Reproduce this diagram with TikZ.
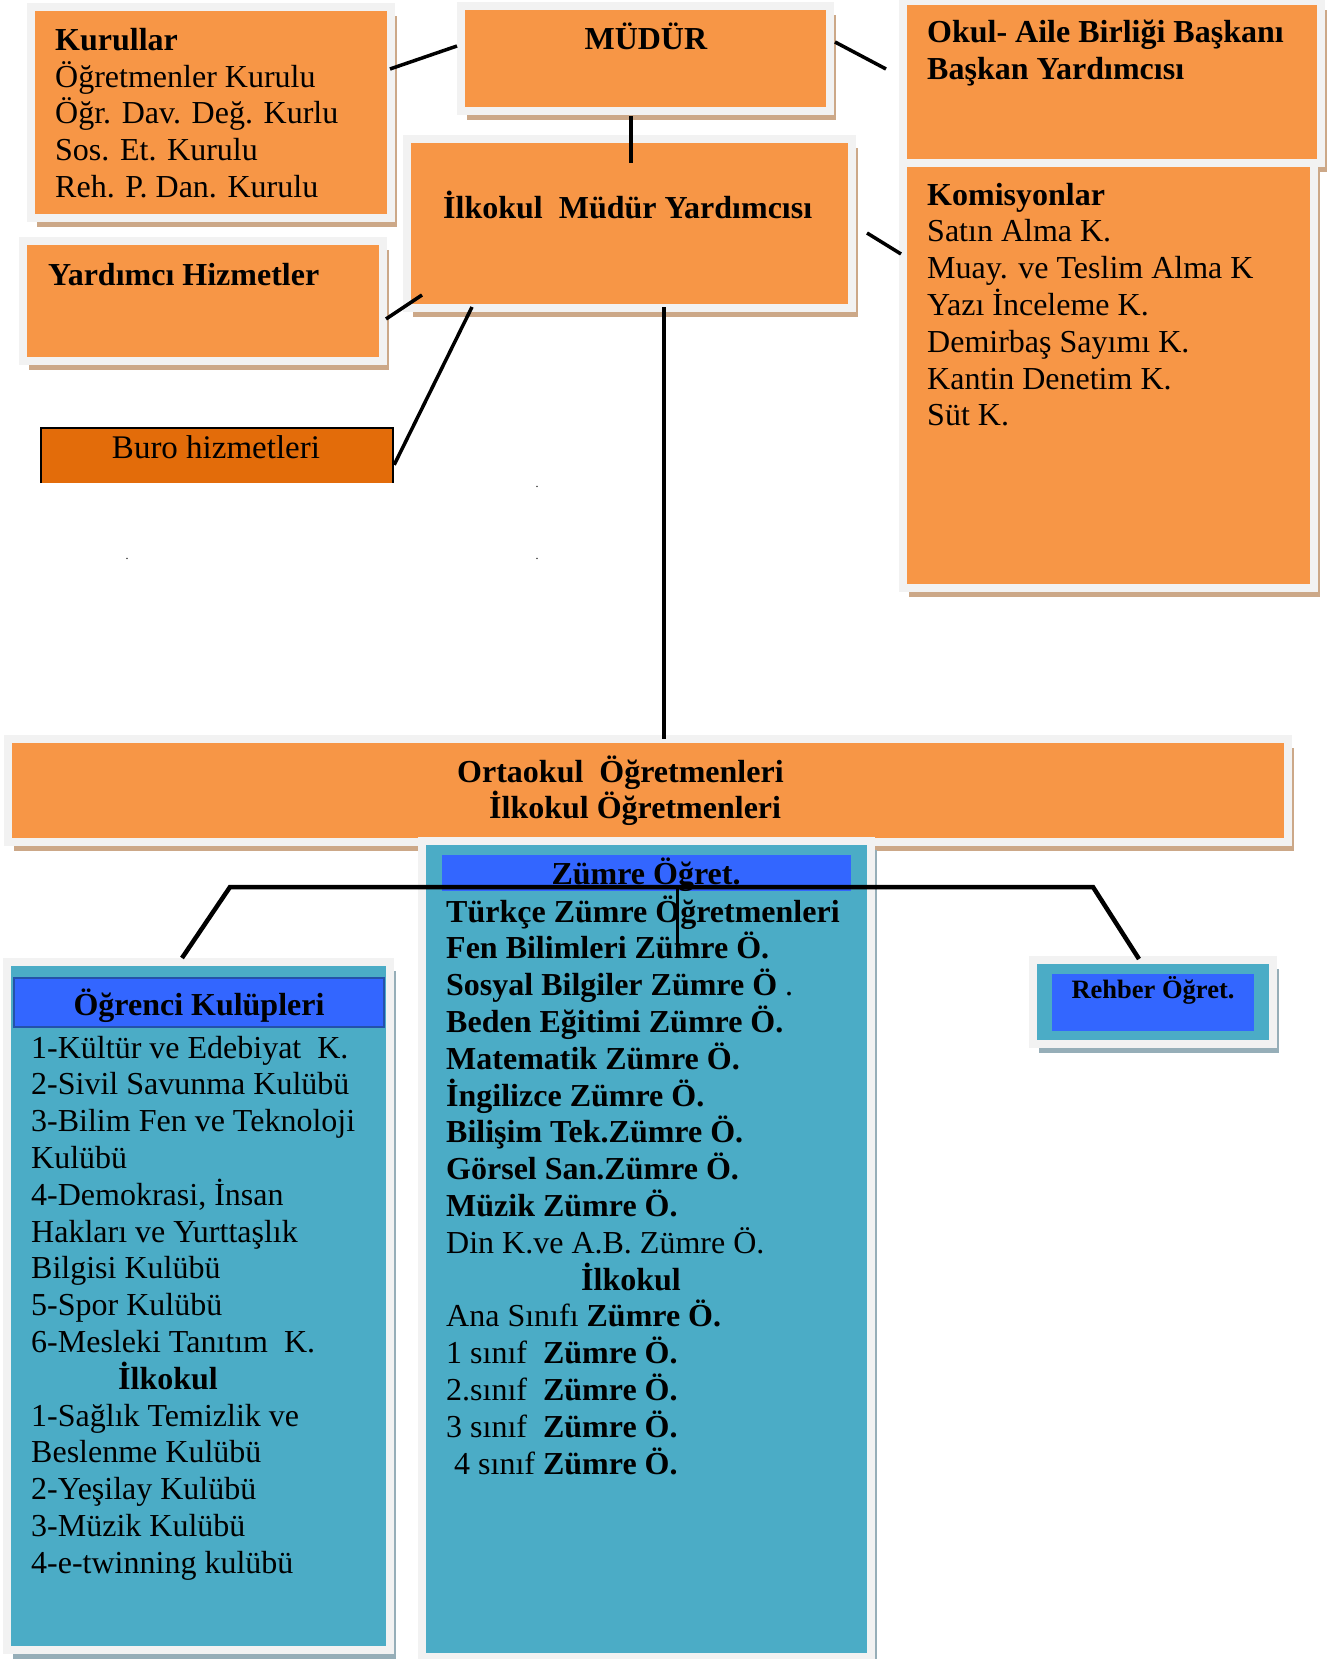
\documentclass[tikz,border=0pt]{standalone}
\usepackage{fontspec}
\setmainfont{Liberation Serif}
\usetikzlibrary{shadows,calc}
\definecolor{orng}{RGB}{247,150,70}
\definecolor{frameg}{RGB}{242,242,242}
\definecolor{shtan}{RGB}{204,168,136}
\definecolor{tealc}{RGB}{75,172,198}
\definecolor{shteal}{RGB}{150,174,184}
\definecolor{blu}{RGB}{51,102,255}
\definecolor{hdrline}{RGB}{36,82,170}
\definecolor{buroc}{RGB}{227,108,10}
\begin{document}
\begin{tikzpicture}[x=1pt,y=-1pt,
  box/.style={rectangle, draw=frameg, line width=8pt, inner sep=0pt},
  obox/.style={box, fill=orng, drop shadow={opacity=1, fill=shtan, shadow xshift=6pt, shadow yshift=-9pt}},
  tbox/.style={box, fill=tealc, drop shadow={opacity=1, fill=shteal, shadow xshift=6pt, shadow yshift=-9pt}},
  hdr/.style={rectangle, fill=blu, inner sep=0pt},
  txt/.style={inner sep=0pt, anchor=base west, font=\fontsize{32}{36.8}\selectfont},
  ctxt/.style={txt, anchor=base},
  link/.style={draw=black, line width=3.5pt},
  barline/.style={draw=black, line width=4.5pt, line join=miter}
]
\fill[white] (0,0) rectangle (1328,1659);
\useasboundingbox (0,0) rectangle (1328,1659);

% ---------- top boxes ----------
\node[obox, minimum width=360pt, minimum height=211pt] (kur) at (211,112.5) {};
\node[obox, minimum width=369pt, minimum height=105pt] (mud) at (645.5,58.5) {};
\node[obox, minimum width=418pt, minimum height=162pt] (okul) at (1112,82) {};
\node[obox, minimum width=411pt, minimum height=425pt] (kom) at (1108.5,375.5) {};
\node[obox, minimum width=445pt, minimum height=169pt] (ilk) at (629.5,223.5) {};
\node[obox, minimum width=360pt, minimum height=120pt] (yar) at (203,301) {};
\node[rectangle, fill=buroc, inner sep=0pt, minimum width=352pt, minimum height=55pt] (buro) at (217,455.5) {};
\draw[line width=2.5pt] (buro.south west) -- (buro.north west) -- (buro.north east) -- (buro.south east);

% ---------- lower boxes ----------
\node[obox, minimum width=1280pt, minimum height=103pt] (ort) at (648,790.5) {};
\node[tbox, minimum width=449pt, minimum height=816pt] (zum) at (646.5,1249) {};
\node[hdr, minimum width=409pt, minimum height=36pt] (zumh) at (646.5,873) {};
\node[tbox, minimum width=383pt, minimum height=688pt] (ogr) at (198.5,1306) {};
\node[hdr, draw=hdrline, line width=2.5pt, minimum width=370pt, minimum height=49pt] (ogrh) at (199,1002.5) {};
\node[tbox, minimum width=240pt, minimum height=84pt] (reh) at (1153,1002) {};
\node[hdr, minimum width=202pt, minimum height=57pt] (rehh) at (1153,1002.5) {};

% ---------- connectors ----------
\draw[link] ($(kur.north east)+(-5,66)$) -- ($(mud.north west)+(0,44)$);
\draw[link] ($(mud.north east)+(1,40)$) -- ($(okul.north west)+(-13,72)$);
\draw[link] ($(mud.south)+(-14.5,1)$) -- ($(ilk.north)+(1.5,28)$);
\draw[link] ($(yar.north east)+(-1,82)$) -- ($(ilk.north west)+(19,160)$);
\draw[link] ($(ilk.south west)+(69,-5)$) -- ($(buro.north east)+(1,37)$);
\draw[link] ($(ilk.north east)+(11,98)$) -- ($(kom.north west)+(2,95)$);
\draw[link] ($(ilk.south)+(34.5,-5)$) -- ($(ort.north)+(16,4)$);
\coordinate (barL) at (230,887);
\coordinate (barR) at (1093,887);
\coordinate (stubT) at (677,887);
\draw[barline] ($(ogr.north)+(-16.5,0)$) -- (barL) -- (barR) -- ($(reh.north)+(-14,3)$);
\draw[draw=black, line width=3pt] (stubT) -- ($(zumh.south)+(30.5,55)$);

% ---------- texts ----------
\node[txt] (kurT) at (55,51) {\textbf{Kurullar}};
\foreach \t [count=\i] in {Öğretmenler Kurulu, Öğr. Dav. Değ. Kurlu, Sos. Et. Kurulu, Reh. P. Dan. Kurulu}
  \node[txt] (kur\i) at (55,{51+36.5*\i}) {\t};
\node[ctxt] (mudT) at (646,50) {\textbf{MÜDÜR}};
\node[txt] (okul1) at (927,43) {\textbf{Okul- Aile Birliği Başkanı}};
\node[txt] (okul2) at (927,80) {\textbf{Başkan Yardımcısı}};
\node[txt] (ilkT) at (443,218) {\textbf{İlkokul\ \ Müdür Yardımcısı}};
\node[txt] (yarT) at (48,285) {\textbf{Yardımcı Hizmetler}};
\node[txt] (komT) at (927,205) {\textbf{Komisyonlar}};
\foreach \t [count=\i] in {Satın Alma K., Muay. ve Teslim Alma K, Yazı İnceleme K., Demirbaş Sayımı K., Kantin Denetim K., Süt K.}
  \node[txt] (kom\i) at (927,{205+36.8*\i}) {\t};
\node[ctxt, font=\fontsize{33}{38}\selectfont] (buroT) at (216,458) {Buro hizmetleri};
\node[ctxt, font=\fontsize{12}{14}\selectfont] (dot1) at (537,487) {.};
\node[ctxt, font=\fontsize{12}{14}\selectfont] (dot2) at (127,559) {.};
\node[ctxt, font=\fontsize{12}{14}\selectfont] (dot3) at (537,559) {.};

\node[txt] (ort1) at (457,782) {\textbf{Ortaokul\ \ Öğretmenleri}};
\node[txt] (ort2) at (489,818) {\textbf{İlkokul Öğretmenleri}};

\node[ctxt] (zumT) at (646,884) {\textbf{Zümre Öğret.}};
\foreach \t [count=\i from 0] in {\textbf{Türkçe Zümre Öğretmenleri}, \textbf{Fen Bilimleri Zümre Ö.}, {\textbf{Sosyal Bilgiler Zümre Ö} .}, \textbf{Beden Eğitimi Zümre Ö.}, \textbf{Matematik Zümre Ö.}, \textbf{İngilizce Zümre Ö.}, \textbf{Bilişim Tek.Zümre Ö.}, \textbf{Görsel San.Zümre Ö.}, \textbf{Müzik Zümre Ö.}, Din K.ve A.B. Zümre Ö.}
  \node[txt] (zl\i) at (446,{922+36.8*\i}) {\t};
\node[ctxt] (zl10) at (631,1290) {\textbf{İlkokul}};
\foreach \t [count=\i from 11] in {Ana Sınıfı \textbf{Zümre Ö.}, 1 sınıf\ \ \textbf{Zümre Ö.}, 2.sınıf\ \ \textbf{Zümre Ö.}, 3 sınıf\ \ \textbf{Zümre Ö.}, \ 4 sınıf \textbf{Zümre Ö.}}
  \node[txt] (zl\i) at (446,{922+36.8*\i}) {\t};

\node[ctxt] (ogrT) at (199,1015) {\textbf{Öğrenci Kulüpleri}};
\foreach \t [count=\i from 0] in {1-Kültür ve Edebiyat\ \ K., 2-Sivil Savunma Kulübü, 3-Bilim Fen ve Teknoloji, Kulübü, {4-Demokrasi, İnsan}, Hakları ve Yurttaşlık, Bilgisi Kulübü, 5-Spor Kulübü, 6-Mesleki Tanıtım\ \ K.}
  \node[txt] (kl\i) at (31,{1058+36.8*\i}) {\t};
\node[ctxt] (kl9) at (168,1389) {\textbf{İlkokul}};
\foreach \t [count=\i from 10] in {1-Sağlık Temizlik ve, Beslenme Kulübü, 2-Yeşilay Kulübü, 3-Müzik Kulübü, 4-e-twinning kulübü}
  \node[txt] (kl\i) at (31,{1058+36.8*\i}) {\t};

\node[ctxt, font=\fontsize{26.5}{30}\selectfont] (rehT) at (1153,998) {\textbf{Rehber Öğret.}};
\end{tikzpicture}
\end{document}
